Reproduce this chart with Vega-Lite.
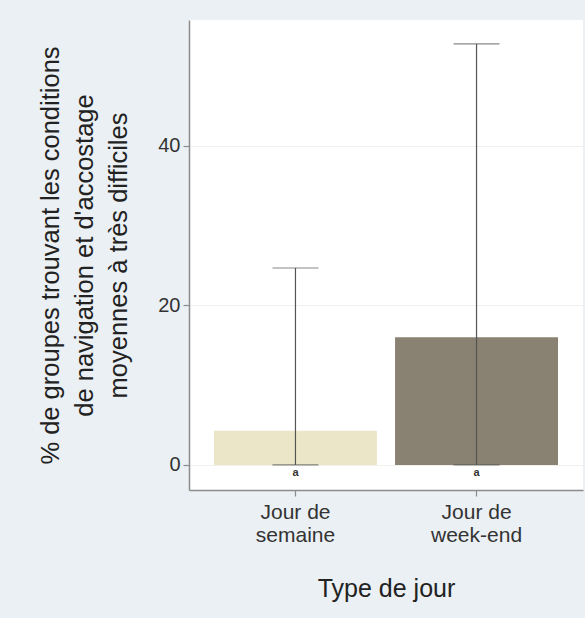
{
  "$schema": "https://vega.github.io/schema/vega-lite/v6.json",
  "width": 394,
  "height": 470,
  "autosize": {"type": "none"},
  "padding": {"left": 189, "top": 20, "right": 2, "bottom": 128},
  "background": "#eaf0f3",
  "config": {"view": {"fill": "white", "stroke": null}, "font": "Liberation Sans"},
  "data": {"values": [
    {"jour": "Jour de semaine", "pct": 4.3, "lower": 0, "upper": 24.7, "lettre": "a"},
    {"jour": "Jour de week-end", "pct": 16.0, "lower": 0, "upper": 52.8, "lettre": "a"}
  ]},
  "resolve": {"axis": {"y": "independent"}},
  "encoding": {
    "x": {
      "field": "jour", "type": "nominal", "sort": null,
      "scale": {"paddingInner": 0.1, "paddingOuter": 0.138},
      "title": "Type de jour",
      "axis": {
        "labelAngle": 0,
        "labelExpr": "datum.value == 'Jour de semaine' ? ['Jour de', 'semaine'] : ['Jour de', 'week-end']",
        "labelFontSize": 21, "labelLineHeight": 23, "labelColor": "#333333", "labelPadding": 5,
        "labelBaseline": "top",
        "domainColor": "#8c8c8c", "domainWidth": 1.5, "tickColor": "#8c8c8c", "tickSize": 6, "tickWidth": 1.2,
        "titleFontSize": 25, "titleFontWeight": "normal", "titleColor": "#222222", "titlePadding": 31
      }
    }
  },
  "layer": [
    {
      "mark": {"type": "bar"},
      "encoding": {
        "y": {
          "field": "pct", "type": "quantitative",
          "scale": {"domain": [-3.14, 55.8], "nice": false, "zero": false},
          "title": ["% de groupes trouvant les conditions", "de navigation et d'accostage", "moyennes à très difficiles"],
          "axis": {
            "values": [0, 20, 40],
            "labelFontSize": 20, "labelColor": "#333333", "labelPadding": 3,
            "domainColor": "#8c8c8c", "domainWidth": 1.5, "tickColor": "#8c8c8c", "tickSize": 6, "tickWidth": 1.2,
            "grid": true, "gridColor": "#f1f1ec", "gridWidth": 1,
            "titleFontSize": 25.5, "titleFontWeight": "normal", "titleColor": "#222222",
            "titleLineHeight": 34, "titlePadding": 26
          }
        },
        "color": {"field": "jour", "type": "nominal", "sort": null, "scale": {"range": ["#ece6c8", "#898272"]}, "legend": null}
      }
    },
    {
      "mark": {"type": "rule", "color": "#555555", "strokeWidth": 1.2},
      "encoding": {
        "y": {"field": "lower", "type": "quantitative", "axis": null},
        "y2": {"field": "upper"}
      }
    },
    {
      "mark": {"type": "tick", "color": "#555555", "size": 46, "thickness": 1.2},
      "encoding": {"y": {"field": "upper", "type": "quantitative", "axis": null}}
    },
    {
      "mark": {"type": "tick", "color": "#555555", "size": 46, "thickness": 1.2},
      "encoding": {"y": {"field": "lower", "type": "quantitative", "axis": null}}
    },
    {
      "mark": {"type": "text", "fontSize": 11, "fontWeight": "bold", "color": "#333333", "dy": 8},
      "encoding": {
        "y": {"field": "lower", "type": "quantitative", "axis": null},
        "text": {"field": "lettre"}
      }
    }
  ]
}
